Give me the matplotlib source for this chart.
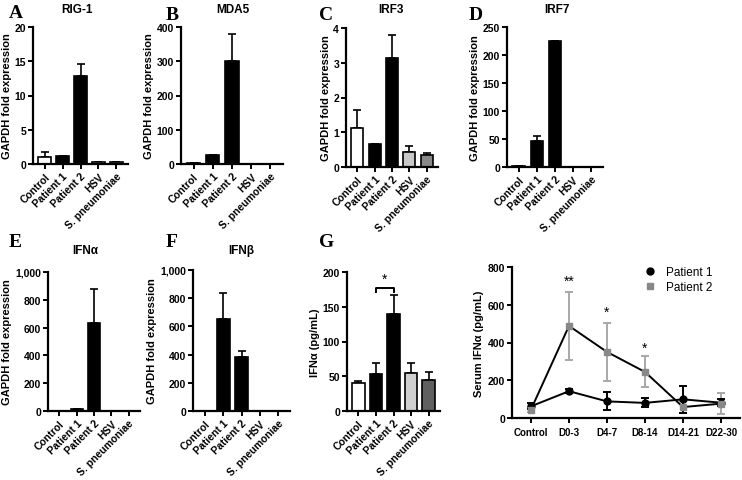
import numpy as np
import matplotlib
matplotlib.use("Agg")
import matplotlib.pyplot as plt
from matplotlib.ticker import FuncFormatter

plt.rcParams['font.family'] = ['Liberation Sans', 'DejaVu Sans']

W, H = 742, 481

# categorías
categorias = ['Control', 'Patient 1', 'Patient 2', 'HSV', 'S. pneumoniae']

rig1 = [1.07, 1.15, 12.8, 0.3, 0.35]
rig1_err = [0.75, 0, 1.8, 0, 0]
mda5 = [2, 26, 302, 0.6, 0.6]
mda5_err = [0, 0, 78, 0, 0]
irf3 = [1.12, 0.65, 3.15, 0.42, 0.34]
irf3_err = [0.52, 0, 0.65, 0.18, 0.05]
irf7 = [1, 47, 225, 0.5, 0.5]
irf7_err = [0, 9, 0, 0, 0]
ifna = [2, 12, 630, 1, 1]
ifna_err = [0, 3, 250, 0, 0]
ifnb = [2, 650, 385, 1, 3]
ifnb_err = [0, 190, 43, 0, 0]
ifna_pg = [40, 53, 140, 55, 45]
ifna_pg_err = [2.5, 16, 27, 14, 11]

# serie temporal
dias = ['Control', 'D0-3', 'D4-7', 'D8-14', 'D14-21', 'D22-30']
p1 = [62, 142, 88, 80, 99, 81]
p1_err = [15, 10, 48, 24, 70, 20]
p2 = [45, 488, 350, 244, 58, 76]
p2_err = [15, 180, 155, 82, 30, 55]

fig = plt.figure(figsize=(W / 100, H / 100), dpi=100)


def ejes(izq, der, arriba, abajo):
    return fig.add_axes([izq / W, 1 - abajo / H, (der - izq) / W, (abajo - arriba) / H])


def estilo(ax, tam=7.5):
    for s in ['top', 'right']:
        ax.spines[s].set_visible(False)
    for s in ['left', 'bottom']:
        ax.spines[s].set_linewidth(1.6)
    ax.tick_params(width=1.4, length=3.5, labelsize=tam, pad=1.5)
    for t in ax.get_yticklabels() + ax.get_xticklabels():
        t.set_fontweight('bold')


def barras(ax, vals, errs, colores, ymax, paso, ylabel, miles=False):
    x = np.arange(len(vals))
    ax.bar(x, vals, width=0.7, color=colores, edgecolor='black', linewidth=1.2, zorder=2)
    ax.errorbar(x, vals, yerr=[np.zeros(len(errs)), errs], fmt='none', ecolor='black',
                elinewidth=1.2, capsize=3, capthick=1.2, zorder=1)
    ax.set_xlim(-0.65, len(vals) - 0.35)
    ax.set_ylim(0, ymax)
    ax.set_yticks(np.arange(0, ymax + 1e-9, paso))
    if miles:
        ax.yaxis.set_major_formatter(FuncFormatter(lambda v, p: f'{int(v):,}'))
    else:
        ax.yaxis.set_major_formatter(FuncFormatter(lambda v, p: f'{v:g}'))
    ax.set_xticks(x)
    ax.set_xticklabels(categorias, rotation=45, ha='right', rotation_mode='anchor')
    ax.set_ylabel(ylabel, fontsize=8, fontweight='bold', labelpad=2)
    estilo(ax)


def letra(x, y, s):
    fig.text(x / W, 1 - y / H, s, fontsize=14, fontweight='bold', family='Liberation Serif',
             ha='left', va='center')


def titulo(x, y, s):
    fig.text(x / W, 1 - y / H, s, fontsize=8.5, fontweight='bold', ha='center', va='center')


gl = 'GAPDH fold expression'
col_a = ['white', 'black', 'black', '#d4d4d4', '#b8b8b8']
col_c = ['white', 'black', 'black', '#c8c8c8', '#888888']
col_g = ['white', 'black', 'black', '#d0d0d0', '#606060']

ax = ejes(33, 128, 28, 165)
barras(ax, rig1, rig1_err, col_a, 20, 5, gl)
letra(9, 14, 'A')
titulo(77, 10, 'RIG-1')

ax = ejes(181, 283, 28, 165)
barras(ax, mda5, mda5_err, col_a, 400, 100, gl)
letra(166, 15, 'B')
titulo(233, 10, 'MDA5')

ax = ejes(346, 438, 29, 168)
barras(ax, irf3, irf3_err, col_c, 4, 1, gl)
letra(319, 15, 'C')
titulo(391, 10, 'IRF3')

ax = ejes(507, 603, 28, 168)
barras(ax, irf7, irf7_err, col_a, 250, 50, gl)
letra(469, 15, 'D')
titulo(557, 10, 'IRF7')

ax = ejes(48, 140, 273, 412)
barras(ax, ifna, ifna_err, col_a, 1000, 200, gl, miles=True)
letra(9, 243, 'E')
titulo(85, 251, 'IFN\u03b1')

ax = ejes(193, 290, 271, 412)
barras(ax, ifnb, ifnb_err, col_a, 1000, 200, gl, miles=True)
letra(166, 243, 'F')
titulo(241, 251, 'IFN\u03b2')

ax = ejes(347, 440, 273, 412)
barras(ax, ifna_pg, ifna_pg_err, col_g, 200, 50, 'IFN\u03b1 (pg/mL)')
ax.plot([1, 1, 2, 2], [171, 177, 177, 171], color='black', lw=1.4, clip_on=False)
ax.text(1.5, 180, '*', ha='center', va='bottom', fontsize=10)
letra(319, 243, 'G')

# serie temporal
ax = ejes(512, 740, 268, 419)
x = np.arange(len(dias))
ax.errorbar(x, p2, yerr=p2_err, fmt='none', ecolor='#a8a8a8', elinewidth=1.4,
            capsize=3, capthick=1.4, zorder=1)
ax.errorbar(x, p1, yerr=p1_err, fmt='none', ecolor='black', elinewidth=1.4,
            capsize=3, capthick=1.4, zorder=2)
ax.plot(x, p2, color='black', lw=1.4, zorder=3)
ax.plot(x, p1, color='black', lw=1.4, zorder=3)
ax.plot(x, p1, 'o', color='black', ms=5, zorder=4, label='Patient 1')
ax.plot(x, p2, 's', color='#888888', ms=4.5, zorder=5, label='Patient 2')
for xi, yi, s in [(1, 690, '**'), (2, 525, '*'), (3, 335, '*')]:
    ax.text(xi, yi, s, ha='center', va='bottom', fontsize=10)
ax.set_xlim(-0.5, 5.5)
ax.set_ylim(0, 800)
ax.set_yticks([0, 200, 400, 600, 800])
ax.set_xticks(x)
ax.set_xticklabels(dias)
ax.set_ylabel('Serum IFN\u03b1 (pg/mL)', fontsize=8, fontweight='bold', labelpad=3)
estilo(ax)
ax.tick_params(axis='x', labelsize=7, pad=3)
ax.legend(loc='upper left', frameon=False, fontsize=8.5, handletextpad=0.8,
          bbox_to_anchor=(0.56, 1.04), borderaxespad=0, labelspacing=0.3, handlelength=1.0)

fig.savefig('out.png', dpi=100)
